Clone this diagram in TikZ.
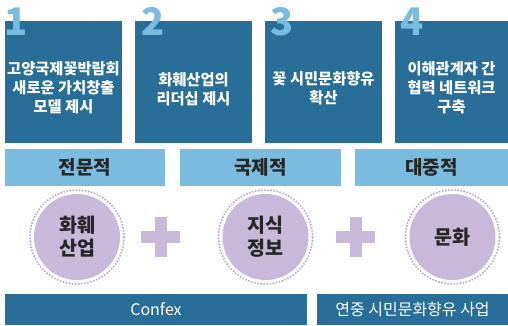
\documentclass[tikz,border=0pt]{standalone}
\usepackage{fontspec}
\setmainfont{Noto Sans CJK KR}
\newfontfamily\digitfont{Noto Sans CJK KR}
\usetikzlibrary{shapes,arrows}
\definecolor{deepblue}{HTML}{286E99}
\definecolor{skyblue}{HTML}{7ABCDF}
\definecolor{lilac}{HTML}{C8B8DA}
\definecolor{ringlilac}{HTML}{B9A3CF}
\tikzstyle{goal} = [rectangle, fill=deepblue, inner sep=0pt]
\tikzstyle{goaltext} = [text=white, align=center, font=\bfseries\fontsize{15.3}{19}\selectfont]
\tikzstyle{num} = [text=skyblue, anchor=base, inner sep=0pt, font=\digitfont\bfseries\fontsize{38}{38}\selectfont]
\tikzstyle{tag} = [rectangle, fill=skyblue, minimum height=37pt, inner sep=0pt, text=black!85, font=\bfseries\fontsize{19}{22}\selectfont]
\tikzstyle{core} = [circle, fill=lilac, minimum size=86pt, inner sep=0pt, align=center, text=black!85, font=\bfseries\fontsize{19.5}{23}\selectfont]
\tikzstyle{ring} = [circle, draw=ringlilac, line width=2.2pt, dash pattern=on 0pt off 3.1pt, line cap=round, minimum size=94pt, inner sep=0pt]
\tikzstyle{base} = [rectangle, fill=deepblue, minimum height=31pt, inner sep=0pt, text=white, font=\fontsize{16}{18}\selectfont]

\begin{document}
\begin{tikzpicture}[x=1pt,y=-1pt]
\useasboundingbox (0,0) rectangle (508,325);
% goal boxes
\node [goal, minimum width=117pt, minimum height=122pt] (g1) at (63.5,82) {};
\node [goal, minimum width=117pt, minimum height=122pt] (g2) at (193.5,82) {};
\node [goal, minimum width=117pt, minimum height=122pt] (g3) at (323.5,82) {};
\node [goal, minimum width=113pt, minimum height=122pt] (g4) at (451.5,82) {};
\node [goaltext] (t1) at (63.5,88) {고양국제꽃박람회\\새로운 가치창출\\모델 제시};
\node [goaltext] (t2) at (193.5,89) {화훼산업의\\리더십 제시};
\node [goaltext] (t3) at (323.5,88) {꽃 시민문화향유\\확산};
\node [goaltext] (t4) at (451.5,88) {이해관계자 간\\협력 네트워크\\구축};
\node [num] (n1) at (16,35) {1};
\node [num] (n2) at (153,35) {2};
\node [num] (n3) at (282.5,35) {3};
\node [num] (n4) at (412,35) {4};

% tags
\node [tag, minimum width=160pt] (a1) at (85,167.5) {전문적};
\node [tag, minimum width=161pt] (a2) at (260.5,167.5) {국제적};
\node [tag, minimum width=153pt] (a3) at (431.5,167.5) {대중적};

% circles
\node [ring] (r1) at (77,237) {};
\node [ring] (r2) at (265.5,237) {};
\node [ring] (r3) at (452.5,237) {};
\node [core] (c1) at (77,237) {화훼\\산업};
\node [core] (c2) at (265.5,237) {지식\\정보};
\node [core] (c3) at (452.5,237) {문화};

% plus signs
\foreach \px/\nm in {160.5/p1, 355.5/p2} {
  \node [fill=lilac, minimum width=39pt, minimum height=12pt, inner sep=0pt] (\nm h) at (\px,237) {};
  \node [fill=lilac, minimum width=12pt, minimum height=40pt, inner sep=0pt] (\nm v) at (\px,237) {};
}

% bottom bars
\node [base, minimum width=302pt] (b1) at (156,309.5) {Confex};
\node [base, minimum width=191pt] (b2) at (412.5,309.5) {연중 시민문화향유 사업};
\end{tikzpicture}
\end{document}
